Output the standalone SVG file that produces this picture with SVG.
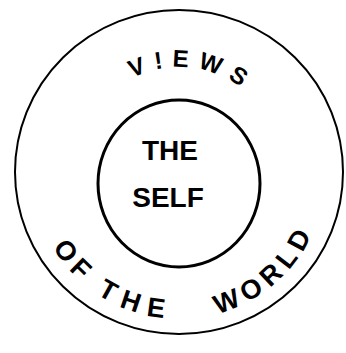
<svg xmlns="http://www.w3.org/2000/svg" width="346" height="353" viewBox="0 0 346 353">
<style>
.ring{fill:none;stroke:#000}
.lbl{font-family:"Liberation Sans",Arial,sans-serif;font-weight:bold;fill:#000}
</style>
<defs>
<path id="topArc" d="M 74 172 A 105 105 0 0 1 284 172"/>
<path id="botArc" d="M 32 172 A 147 147 0 0 0 326 172"/>
</defs>
<rect width="346" height="353" fill="#fff"/>
<g id="world">
<ellipse class="ring" cx="179" cy="172" rx="164" ry="162" stroke-width="2"/>
<text class="lbl" font-size="24" letter-spacing="9" text-anchor="middle"><textPath href="#topArc" startOffset="54%">V!EWS</textPath></text>
<text class="lbl" font-size="27" letter-spacing="6" text-anchor="middle"><textPath href="#botArc" startOffset="104">OF</textPath></text>
<text class="lbl" font-size="27" letter-spacing="9" text-anchor="middle"><textPath href="#botArc" startOffset="184">THE</textPath></text>
<text class="lbl" font-size="27" letter-spacing="6" text-anchor="middle"><textPath href="#botArc" startOffset="336">WORLD</textPath></text>
</g>
<g id="self">
<ellipse class="ring" cx="179" cy="183.5" rx="81" ry="83.5" stroke-width="3"/>
<text class="lbl" x="170" y="160" font-size="28" text-anchor="middle">THE</text>
<text class="lbl" x="168" y="207" font-size="28" text-anchor="middle">SELF</text>
</g>
</svg>
